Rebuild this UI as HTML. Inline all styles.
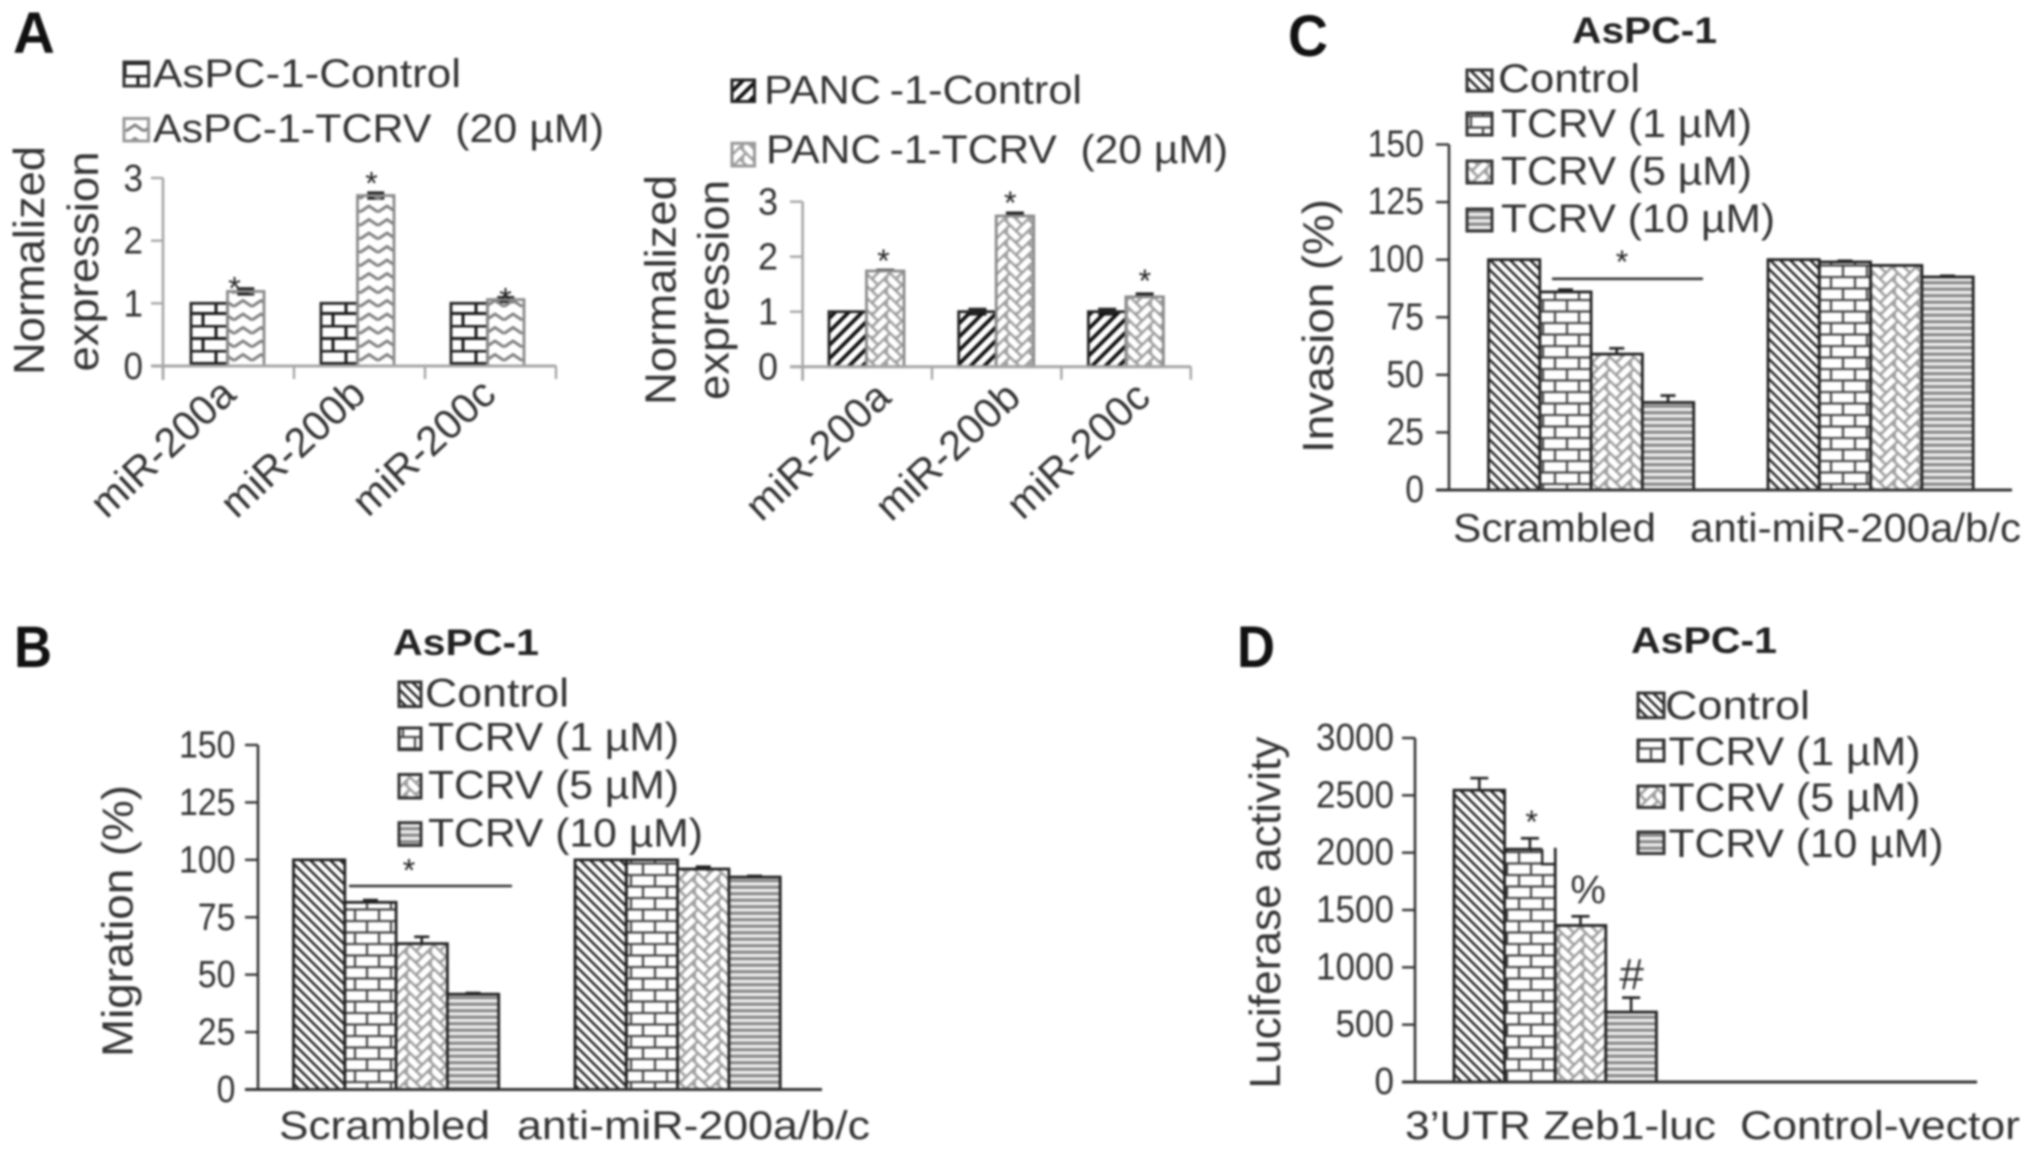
<!DOCTYPE html>
<html lang="en">
<head>
<meta charset="utf-8">
<title>TCRV miR-200 panels</title>
<style>
html,body{margin:0;padding:0;background:#fff;width:2031px;height:1153px;overflow:hidden}
svg{display:block;filter:blur(1px)}
text{font-family:"Liberation Sans",sans-serif;fill:#333}
.letter{font-weight:bold;fill:#111;font-size:58px}
.title{font-weight:bold;fill:#222;font-size:37px}
.lg{font-size:40px}
.ya{font-size:44px}
.xl{font-size:40px}
</style>
</head>
<body>
<svg id="figure" xmlns="http://www.w3.org/2000/svg" width="2031" height="1153" viewBox="0 0 2031 1153">
<defs>
<pattern id="p-back" patternUnits="userSpaceOnUse" width="10" height="10"><path d="M-2,-2L12,12M-2,8L2,12M8,-2L12,2" stroke="#222" stroke-width="2.4" fill="none"/></pattern>
<pattern id="p-fwd" patternUnits="userSpaceOnUse" width="13.5" height="13.5"><path d="M-2,15.5L15.5,-2M-2,2L2,-2M11.5,15.5L15.5,11.5" stroke="#111" stroke-width="3.8" fill="none"/></pattern>
<pattern id="p-brick" patternUnits="userSpaceOnUse" width="24" height="23"><path d="M0,1H24M0,12.5H24M7,1V12.5M19,12.5V23" stroke="#444" stroke-width="2.2" fill="none"/></pattern>
<pattern id="p-brick-dark" patternUnits="userSpaceOnUse" width="26" height="25"><path d="M0,1H26M0,13.5H26M8,1V13.5M21,13.5V25" stroke="#1a1a1a" stroke-width="3" fill="none"/></pattern>
<pattern id="p-zig" patternUnits="userSpaceOnUse" width="18" height="13.5"><path d="M0,9.5L9,3.5L18,9.5" stroke="#808080" stroke-width="3" fill="none"/></pattern>
<pattern id="p-herring" patternUnits="userSpaceOnUse" width="24" height="24"><rect width="24" height="24" fill="#a0a0a0"/><path d="M0,1L10,11M0,13L10,23M0,25L10,35M12,5L22,-5M12,17L22,7M12,29L22,19" stroke="#fff" stroke-width="6" fill="none"/></pattern>
<pattern id="p-hline" patternUnits="userSpaceOnUse" width="6.5" height="6.5"><rect width="6.5" height="6.5" fill="#eee"/><path d="M0,3.2H6.5" stroke="#888" stroke-width="3.2" fill="none"/></pattern>
</defs>

<g id="panel-a1">
<text class="letter" x="13" y="53">A</text>
<rect x="124" y="62" width="24.5" height="24" fill="url(#p-brick-dark)" stroke="#333" stroke-width="3"/>
<text class="lg" x="153" y="87" textLength="308" lengthAdjust="spacingAndGlyphs">AsPC-1-Control</text>
<rect x="124" y="118.5" width="24.5" height="22.5" fill="url(#p-zig)" stroke="#999" stroke-width="3"/>
<text class="lg" x="153" y="142" textLength="451" lengthAdjust="spacingAndGlyphs">AsPC-1-TCRV&#160; (20 µM)</text>
<text class="ya" transform="translate(44,375) rotate(-90)" textLength="229" lengthAdjust="spacingAndGlyphs">Normalized</text>
<text class="ya" transform="translate(98,371.5) rotate(-90)" textLength="220" lengthAdjust="spacingAndGlyphs">expression</text>
</g>

<g id="panel-a2">
<rect x="732" y="80" width="22.5" height="21.5" fill="url(#p-fwd)" stroke="#222" stroke-width="3"/>
<text class="lg" x="764" y="103.3" textLength="318" lengthAdjust="spacingAndGlyphs">PANC&#8201;-1-Control</text>
<rect x="732" y="143.3" width="22.5" height="22.7" fill="url(#p-herring)" stroke="#999" stroke-width="3"/>
<text class="lg" x="766" y="163" textLength="462" lengthAdjust="spacingAndGlyphs">PANC&#8201;-1-TCRV&#160; (20 µM)</text>
<text class="ya" transform="translate(675.4,405) rotate(-90)" textLength="230" lengthAdjust="spacingAndGlyphs">Normalized</text>
<text class="ya" transform="translate(728.7,400) rotate(-90)" textLength="220" lengthAdjust="spacingAndGlyphs">expression</text>
</g>

<g id="panel-c">
<text class="letter" x="1288" y="56" textLength="40" lengthAdjust="spacingAndGlyphs">C</text>
<text class="title" x="1572" y="43" textLength="145" lengthAdjust="spacingAndGlyphs">AsPC-1</text>
<rect x="1467" y="70" width="25" height="21" fill="url(#p-back)" stroke="#333" stroke-width="3"/>
<text class="lg" x="1498" y="92" textLength="142" lengthAdjust="spacingAndGlyphs">Control</text>
<rect x="1467" y="113" width="25" height="22" fill="url(#p-brick)" stroke="#333" stroke-width="3"/>
<text class="lg" x="1501" y="137" textLength="251" lengthAdjust="spacingAndGlyphs">TCRV (1 µM)</text>
<rect x="1467" y="161" width="25" height="22" fill="url(#p-herring)" stroke="#333" stroke-width="3"/>
<text class="lg" x="1501" y="184.5" textLength="251" lengthAdjust="spacingAndGlyphs">TCRV (5 µM)</text>
<rect x="1467" y="209" width="25" height="22" fill="url(#p-hline)" stroke="#333" stroke-width="3"/>
<text class="lg" x="1501" y="232" textLength="274" lengthAdjust="spacingAndGlyphs">TCRV (10 µM)</text>
<text class="ya" transform="translate(1333,453) rotate(-90)" textLength="254" lengthAdjust="spacingAndGlyphs">Invasion (%)</text>
</g>

<g id="panel-b">
<text class="letter" x="14" y="667" textLength="38" lengthAdjust="spacingAndGlyphs">B</text>
<text class="title" x="393" y="655" textLength="146" lengthAdjust="spacingAndGlyphs">AsPC-1</text>
<rect x="399" y="682" width="22" height="24.5" fill="url(#p-back)" stroke="#333" stroke-width="3"/>
<text class="lg" x="425" y="706.4" textLength="144" lengthAdjust="spacingAndGlyphs">Control</text>
<rect x="399" y="728" width="22" height="21.6" fill="url(#p-brick)" stroke="#333" stroke-width="3"/>
<text class="lg" x="428" y="750.7" textLength="251" lengthAdjust="spacingAndGlyphs">TCRV (1 µM)</text>
<rect x="399" y="774.5" width="22" height="23.5" fill="url(#p-herring)" stroke="#333" stroke-width="3"/>
<text class="lg" x="428" y="798.6" textLength="251" lengthAdjust="spacingAndGlyphs">TCRV (5 µM)</text>
<rect x="399" y="822.7" width="22" height="22.7" fill="url(#p-hline)" stroke="#333" stroke-width="3"/>
<text class="lg" x="428" y="846.4" textLength="275" lengthAdjust="spacingAndGlyphs">TCRV (10 µM)</text>
<text class="ya" transform="translate(132.7,1057) rotate(-90)" textLength="272" lengthAdjust="spacingAndGlyphs">Migration (%)</text>
</g>

<g id="panel-d">
<text class="letter" x="1237" y="667" textLength="38" lengthAdjust="spacingAndGlyphs">D</text>
<text class="title" x="1631" y="653" textLength="146" lengthAdjust="spacingAndGlyphs">AsPC-1</text>
<rect x="1638" y="693" width="26" height="24.7" fill="url(#p-back)" stroke="#333" stroke-width="3"/>
<text class="lg" x="1665" y="718.8" textLength="145" lengthAdjust="spacingAndGlyphs">Control</text>
<rect x="1638" y="740" width="26" height="21" fill="url(#p-brick)" stroke="#333" stroke-width="3"/>
<text class="lg" x="1668.5" y="765" textLength="252" lengthAdjust="spacingAndGlyphs">TCRV (1 µM)</text>
<rect x="1638" y="786" width="26" height="21.5" fill="url(#p-herring)" stroke="#333" stroke-width="3"/>
<text class="lg" x="1668.5" y="811" textLength="252" lengthAdjust="spacingAndGlyphs">TCRV (5 µM)</text>
<rect x="1638" y="832" width="26" height="21.5" fill="url(#p-hline)" stroke="#333" stroke-width="3"/>
<text class="lg" x="1668.5" y="857" textLength="275" lengthAdjust="spacingAndGlyphs">TCRV (10 µM)</text>
<text class="ya" transform="translate(1280,1088.6) rotate(-90)" textLength="352" lengthAdjust="spacingAndGlyphs">Luciferase activity</text>
</g>
</svg>

<script>
// Panel A, AsPC-1
const a1Categories = ['miR-200a', 'miR-200b', 'miR-200c'];
const a1YTicks = [0, 1, 2, 3];
const a1Control = [1, 1, 1];
const a1Tcrv = [1.19, 2.72, 1.06];
const a1ControlErr = [0, 0, 0];
const a1TcrvErr = [0.04, 0.04, 0.03];

// Panel A, PANC-1
const a2Categories = ['miR-200a', 'miR-200b', 'miR-200c'];
const a2YTicks = [0, 1, 2, 3];
const a2Control = [1, 1, 1];
const a2Tcrv = [1.74, 2.74, 1.27];
const a2ControlErr = [0, 0.04, 0.04];
const a2TcrvErr = [0.01, 0.05, 0.05];

// Panel C, invasion
const cCategories = ['Scrambled', 'anti-miR-200a/b/c'];
const cYTicks = [0, 25, 50, 75, 100, 125, 150];
const cControl = [100, 100];
const cTcrv1 = [86, 99];
const cTcrv5 = [59, 97.5];
const cTcrv10 = [38, 92.5];
const cControlErr = [0, 0];
const cTcrv1Err = [1, 0.5];
const cTcrv5Err = [2.5, 0];
const cTcrv10Err = [3, 0.5];

// Panel B, migration
const bCategories = ['Scrambled', 'anti-miR-200a/b/c'];
const bYTicks = [0, 25, 50, 75, 100, 125, 150];
const bControl = [100, 100];
const bTcrv1 = [81.5, 100];
const bTcrv5 = [63.5, 96];
const bTcrv10 = [41.5, 92.5];
const bControlErr = [0, 0];
const bTcrv1Err = [1, 0];
const bTcrv5Err = [3, 1];
const bTcrv10Err = [0.5, 0.5];

// Panel D, luciferase
const dCategories = ['3\u2019UTR Zeb1-luc', 'Control-vector'];
const dYTicks = [0, 500, 1000, 1500, 2000, 2500, 3000];
const dControl = [2545, 0];
const dTcrv1 = [2030, 0];
const dTcrv5 = [1365, 0];
const dTcrv10 = [610, 0];
const dControlErr = [105, 0];
const dTcrv1Err = [95, 0];
const dTcrv5Err = [80, 0];
const dTcrv10Err = [125, 0];
const dTcrv1Shoulder = [1900];

const SVGNS = 'http://www.w3.org/2000/svg';

function make(tag, attrs, parent) {
  const node = document.createElementNS(SVGNS, tag);
  for (const k in attrs) node.setAttribute(k, attrs[k]);
  parent.appendChild(node);
  return node;
}

function drawPanel(p) {
  const root = document.getElementById(p.id);
  const maxV = p.yTicks[p.yTicks.length - 1];
  const y = v => p.yZero - (v / maxV) * (p.yZero - p.yTop);
  const barX = (cat, s) => p.barStart + cat * p.groupStep + s * p.barW;

  p.series.forEach((vals, s) => {
    vals.forEach((v, cat) => {
      const err = p.errors[s][cat];
      if (err > 0) {
        const cx = barX(cat, s) + p.barW / 2;
        const lo = p.twoSided ? y(v - err) : y(v);
        const hi = y(v + err);
        const eb = make('path', {
          d: 'M' + cx + ',' + lo + 'V' + hi + 'M' + (cx - p.capW / 2) + ',' + hi + 'H' + (cx + p.capW / 2) +
             (p.twoSided ? 'M' + (cx - p.capW / 2) + ',' + lo + 'H' + (cx + p.capW / 2) : ''),
          stroke: '#222', 'stroke-width': p.twoSided ? 3.4 : 2.6, fill: 'none'
        }, root);
        
        
      }
      const bar = make('rect', {
        x: barX(cat, s), y: y(v), width: p.barW, height: Math.max(0, p.yZero - y(v)),
        fill: 'url(#' + p.fills[s] + ')', stroke: p.strokes[s], 'stroke-width': v > 0 ? 2.8 : 0
      }, root);
      
      
    });
  });

  const yAxis = make('line', {
    x1: p.axisX, x2: p.axisX, y1: p.yTop, y2: p.xTickStep ? p.yZero + 14 : p.yZero,
    stroke: p.axisColor, 'stroke-width': 2.6
  }, root);
  
  

  const xAxis = make('line', {
    x1: p.tickLeft, x2: p.right, y1: p.yZero, y2: p.yZero, stroke: p.axisColor, 'stroke-width': 3
  }, root);
  
  

  p.yTicks.forEach(t => {
    const tick = make('line', {
      x1: p.tickLeft, x2: p.axisX, y1: y(t), y2: y(t), stroke: p.axisColor, 'stroke-width': 2.4
    }, root);
    
    
    const label = make('text', {
      x: p.labelRight, y: y(t) + p.labelDy, 'text-anchor': 'end', 'font-size': 38,
      textLength: String(t).length * p.digitW, lengthAdjust: 'spacingAndGlyphs'
    }, root);
    label.textContent = String(t);
    
    
  });

  if (p.xTickStep) {
    for (let i = 0; i <= p.series[0].length; i++) {
      const tx = p.axisX + i * p.xTickStep;
      const xt = make('line', {
        x1: tx, x2: tx, y1: p.yZero, y2: p.yZero + 13, stroke: p.axisColor, 'stroke-width': 2.4
      }, root);
      
      
    }
  }
  return { root, y, barX };
}

function star(ctx, cx, cy, name) {
  const s = make('text', { x: cx, y: cy + 17, 'text-anchor': 'middle', 'font-size': 32 }, ctx.root);
  s.style.fill = '#222';
  s.textContent = '*';
  
  
}

function angledLabel(ctx, text, endX, endY, name) {
  const t = make('text', {
    transform: 'translate(' + endX + ',' + endY + ') rotate(-43)',
    'text-anchor': 'end', 'font-size': 41.5
  }, ctx.root);
  t.textContent = text;
  
  
}

function flatLabel(ctx, text, x, y, len, name) {
  const t = make('text', {
    x: x, y: y, 'font-size': 40, textLength: len, lengthAdjust: 'spacingAndGlyphs'
  }, ctx.root);
  t.textContent = text;
  
  
}

function bracket(ctx, x1, x2, yPos, name) {
  const l = make('line', { x1: x1, x2: x2, y1: yPos, y2: yPos, stroke: '#333', 'stroke-width': 2.6 }, ctx.root);
  
  
}

const a1 = drawPanel({
  id: 'panel-a1', key: 'a1', yTicks: a1YTicks, series: [a1Control, a1Tcrv], errors: [a1ControlErr, a1TcrvErr],
  fills: ['p-brick-dark', 'p-zig'], strokes: ['#222', '#8a8a8a'], twoSided: true, capW: 17, labelDy: 13,
  axisX: 163, yZero: 366, yTop: 178, tickLeft: 151, right: 556, axisColor: '#a6a6a6',
  labelRight: 143, digitW: 19.5, barStart: 191, groupStep: 130, barW: 36.5, xTickStep: 131
});
a1Categories.forEach((c, i) => angledLabel(a1, c, a1.barX(i, 0) + 47, 397, 'x-tick-label-a1-' + c));
star(a1, a1.barX(0, 1) + 7, a1.y(a1Tcrv[0]) - 9, 'significance-star-a1-200a');
star(a1, a1.barX(1, 1) + 14, a1.y(a1Tcrv[1]) - 18, 'significance-star-a1-200b');
star(a1, a1.barX(2, 1) + 18, a1.y(a1Tcrv[2]) - 6, 'significance-star-a1-200c');

const a2 = drawPanel({
  id: 'panel-a2', key: 'a2', yTicks: a2YTicks, series: [a2Control, a2Tcrv], errors: [a2ControlErr, a2TcrvErr],
  fills: ['p-fwd', 'p-herring'], strokes: ['#222', '#8a8a8a'], twoSided: true, capW: 18, labelDy: 13,
  axisX: 802.6, yZero: 366.7, yTop: 201.7, tickLeft: 790, right: 1191, axisColor: '#a6a6a6',
  labelRight: 778, digitW: 20, barStart: 829, groupStep: 129.7, barW: 37.5, xTickStep: 129.4
});
a2Categories.forEach((c, i) => angledLabel(a2, c, a2.barX(i, 0) + 64, 400, 'x-tick-label-a2-' + c));
star(a2, a2.barX(0, 1) + 17, a2.y(a2Tcrv[0]) - 16, 'significance-star-a2-200a');
star(a2, a2.barX(1, 1) + 14, a2.y(a2Tcrv[1]) - 19, 'significance-star-a2-200b');
star(a2, a2.barX(2, 1) + 19, a2.y(a2Tcrv[2]) - 22, 'significance-star-a2-200c');

const c = drawPanel({
  id: 'panel-c', key: 'c', yTicks: cYTicks, series: [cControl, cTcrv1, cTcrv5, cTcrv10],
  errors: [cControlErr, cTcrv1Err, cTcrv5Err, cTcrv10Err],
  fills: ['p-back', 'p-brick', 'p-herring', 'p-hline'], strokes: ['#222', '#222', '#222', '#222'], twoSided: false, capW: 15, labelDy: 12,
  axisX: 1449, yZero: 490, yTop: 144.5, tickLeft: 1436, right: 2012, axisColor: '#333',
  labelRight: 1424, digitW: 18.8, barStart: 1488.5, groupStep: 279.5, barW: 51.3
});
flatLabel(c, cCategories[0], 1453, 541.5, 203, 'x-tick-label-c-scrambled');
flatLabel(c, cCategories[1], 1690, 541.5, 331, 'x-tick-label-c-anti-mir');
bracket(c, 1552, 1703, 278.8, 'significance-line-c');
star(c, 1622, 256, 'significance-star-c');

const b = drawPanel({
  id: 'panel-b', key: 'b', yTicks: bYTicks, series: [bControl, bTcrv1, bTcrv5, bTcrv10],
  errors: [bControlErr, bTcrv1Err, bTcrv5Err, bTcrv10Err],
  fills: ['p-back', 'p-brick', 'p-herring', 'p-hline'], strokes: ['#222', '#222', '#222', '#222'], twoSided: false, capW: 15, labelDy: 12.5,
  axisX: 258, yZero: 1089.5, yTop: 745, tickLeft: 245, right: 822, axisColor: '#333',
  labelRight: 235.4, digitW: 18.8, barStart: 293.5, groupStep: 281.5, barW: 51.3
});
flatLabel(b, bCategories[0], 279, 1139, 211, 'x-tick-label-b-scrambled');
flatLabel(b, bCategories[1], 517, 1139, 353, 'x-tick-label-b-anti-mir');
bracket(b, 349, 512, 886, 'significance-line-b');
star(b, 409, 864.5, 'significance-star-b');

const d = drawPanel({
  id: 'panel-d', key: 'd', yTicks: dYTicks, series: [dControl, dTcrv1, dTcrv5, dTcrv10],
  errors: [dControlErr, dTcrv1Err, dTcrv5Err, dTcrv10Err],
  fills: ['p-back', 'p-brick', 'p-herring', 'p-hline'], strokes: ['#222', '#222', '#222', '#222'], twoSided: false, capW: 18, labelDy: 12,
  axisX: 1415, yZero: 1082, yTop: 738, tickLeft: 1402, right: 1977, axisColor: '#333',
  labelRight: 1394, digitW: 19.5, barStart: 1454, groupStep: 300, barW: 50.6
});
flatLabel(d, dCategories[0], 1405, 1139, 311, 'x-tick-label-d-zeb1');
flatLabel(d, dCategories[1], 1740, 1139, 280, 'x-tick-label-d-control-vector');

// Bar 2 of panel D has a stepped shoulder at its upper right corner.
const notchRight = d.barX(0, 2);
const notchTop = d.y(dTcrv1[0]);
const notchBottom = d.y(dTcrv1Shoulder[0]);
const notch = make('path', {
  d: 'M' + (notchRight - 13) + ',' + (notchTop - 2) + 'H' + (notchRight - 1.3) + 'V' + notchBottom + 'H' + (notchRight - 13) + 'Z',
  fill: '#fff', stroke: 'none'
}, d.root);


const shoulder = make('path', {
  d: 'M' + (notchRight - 13) + ',' + notchTop + 'V' + notchBottom + 'H' + notchRight,
  fill: 'none', stroke: '#222', 'stroke-width': 2.4
}, d.root);



star(d, d.barX(0, 1) + 27, d.y(dTcrv1[0]) - 33, 'significance-star-d');

const percentMark = make('text', {
  x: d.barX(0, 2) + 33, y: d.y(dTcrv5[0]) - 22, 'text-anchor': 'middle', 'font-size': 40
}, d.root);
percentMark.textContent = '%';



const hashMark = make('text', {
  x: d.barX(0, 3) + 26, y: d.y(dTcrv10[0]) - 23, 'text-anchor': 'middle', 'font-size': 44
}, d.root);
hashMark.textContent = '#';


</script>
</body>
</html>
